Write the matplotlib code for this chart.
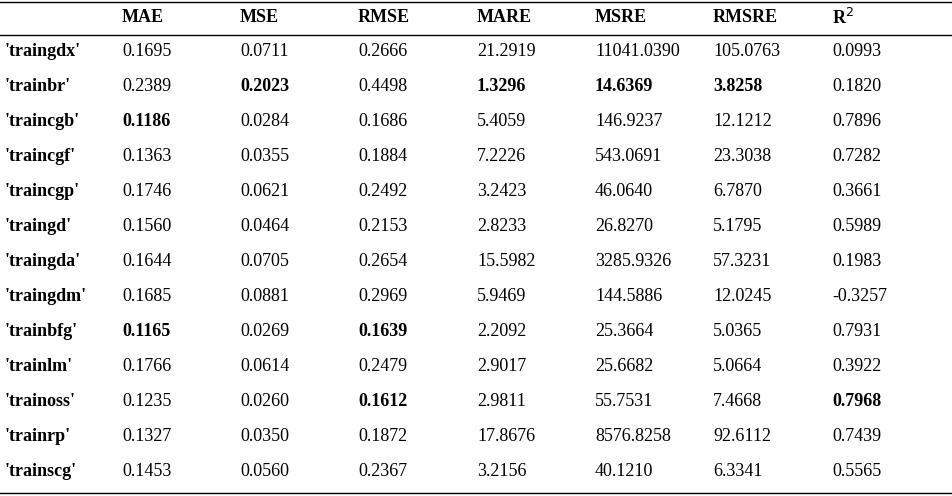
import matplotlib
matplotlib.use("Agg")
import matplotlib.pyplot as plt

columns = ["MAE", "MSE", "RMSE", "MARE", "MSRE", "RMSRE", "R$^2$"]
rows = ["'traingdx'", "'trainbr'", "'traincgb'", "'traincgf'", "'traincgp'", "'traingd'",
        "'traingda'", "'traingdm'", "'trainbfg'", "'trainlm'", "'trainoss'", "'trainrp'", "'trainscg'"]
values = [
    ["0.1695", "0.0711", "0.2666", "21.2919", "11041.0390", "105.0763", "0.0993"],
    ["0.2389", "0.2023", "0.4498", "1.3296", "14.6369", "3.8258", "0.1820"],
    ["0.1186", "0.0284", "0.1686", "5.4059", "146.9237", "12.1212", "0.7896"],
    ["0.1363", "0.0355", "0.1884", "7.2226", "543.0691", "23.3038", "0.7282"],
    ["0.1746", "0.0621", "0.2492", "3.2423", "46.0640", "6.7870", "0.3661"],
    ["0.1560", "0.0464", "0.2153", "2.8233", "26.8270", "5.1795", "0.5989"],
    ["0.1644", "0.0705", "0.2654", "15.5982", "3285.9326", "57.3231", "0.1983"],
    ["0.1685", "0.0881", "0.2969", "5.9469", "144.5886", "12.0245", "-0.3257"],
    ["0.1165", "0.0269", "0.1639", "2.2092", "25.3664", "5.0365", "0.7931"],
    ["0.1766", "0.0614", "0.2479", "2.9017", "25.6682", "5.0664", "0.3922"],
    ["0.1235", "0.0260", "0.1612", "2.9811", "55.7531", "7.4668", "0.7968"],
    ["0.1327", "0.0350", "0.1872", "17.8676", "8576.8258", "92.6112", "0.7439"],
    ["0.1453", "0.0560", "0.2367", "3.2156", "40.1210", "6.3341", "0.5565"],
]
bold = {(1, 1), (1, 3), (1, 4), (1, 5), (2, 0), (8, 0), (8, 2), (10, 2), (10, 6)}

fig = plt.figure(figsize=(9.52, 4.96), dpi=100)
ax = fig.add_axes([0, 0, 1, 1])
ax.set_xlim(0, 952); ax.set_ylim(496, 0); ax.axis("off")
font = dict(family="Liberation Serif", fontsize=13, va="center")
colx = [122, 240, 358, 477, 595, 713, 832]
ax.plot([0, 952], [2, 2], color="black", lw=1)
ax.plot([0, 952], [35, 35], color="black", lw=1)
ax.plot([0, 952], [493, 493], color="black", lw=1)
for x, c in zip(colx, columns):
    ax.text(x, 18, c, fontweight="bold", **font)
for i, (r, vals) in enumerate(zip(rows, values)):
    y = 51 + i * 35.08
    ax.text(5, y, r, fontweight="bold", **font)
    for j, (x, v) in enumerate(zip(colx, vals)):
        ax.text(x, y, v, fontweight="bold" if (i, j) in bold else "normal", **font)
fig.savefig("out.png", dpi=100)
